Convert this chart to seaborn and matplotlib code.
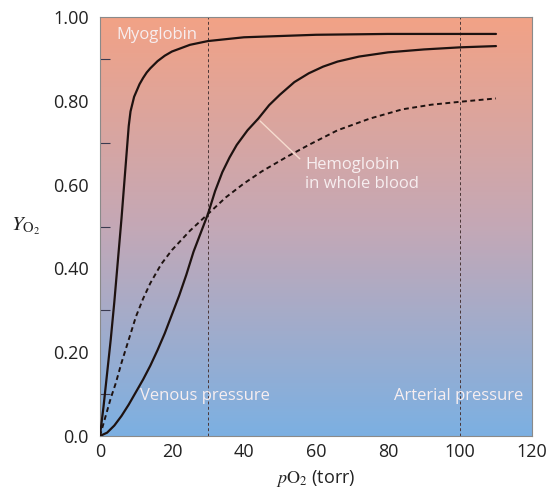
import numpy as np
import matplotlib
matplotlib.use("Agg")
import matplotlib.pyplot as plt
from matplotlib.colors import LinearSegmentedColormap
from matplotlib.ticker import MultipleLocator, FixedLocator
import seaborn as sns

# oxygen binding curves (pO2 in torr, fractional saturation)
myo_p = [0, 1, 2, 3, 4, 5, 6, 7, 8, 8.5, 9.5, 11, 12, 13, 14, 16, 18, 20, 25, 30, 40, 60, 80, 110]
myo_y = [0, 0.07, 0.15, 0.23, 0.32, 0.42, 0.52, 0.63, 0.74, 0.775, 0.81, 0.84, 0.855, 0.868, 0.878,
         0.895, 0.908, 0.918, 0.934, 0.943, 0.952, 0.958, 0.96, 0.96]

hb_p = [0, 2, 4, 6, 8, 10, 12, 14, 16, 18, 20, 22, 24, 26, 28, 30, 32, 34, 36, 38, 41, 44, 47,
        50, 54, 58, 62, 66, 72, 80, 90, 100, 110]
hb_y = [0, 0.008, 0.025, 0.048, 0.075, 0.105, 0.135, 0.168, 0.205, 0.245, 0.29, 0.335, 0.385,
        0.44, 0.485, 0.53, 0.585, 0.63, 0.665, 0.695, 0.73, 0.758, 0.79, 0.815, 0.845, 0.866,
        0.882, 0.894, 0.906, 0.916, 0.923, 0.928, 0.931]

blood_p = [0, 1, 2, 3, 4.4, 6, 8, 10, 12, 14, 17, 20, 25, 30, 35, 40, 45, 52, 58, 66, 75, 84,
           92, 100, 110]
blood_y = [0, 0.03, 0.06, 0.09, 0.126, 0.175, 0.23, 0.285, 0.328, 0.365, 0.41, 0.444, 0.49,
           0.53, 0.57, 0.603, 0.632, 0.667, 0.695, 0.73, 0.758, 0.78, 0.791, 0.798, 0.806]

pressures = [30, 100]
pressure_labels = ["Venous pressure", "Arterial pressure"]

sns.set_style("white")
plt.rcParams["font.family"] = ["Open Sans", "DejaVu Sans"]
plt.rcParams["mathtext.fontset"] = "stix"

fig = plt.figure(figsize=(5.49, 4.91), dpi=100)
ax = fig.add_axes([0.182, 0.112, 0.787, 0.853])

# salmon -> mauve -> blue backdrop (top to bottom)
cmap = LinearSegmentedColormap.from_list("bg", ["#f2a286", "#c4a8b6", "#7cb0e2"])
grad = np.linspace(0, 1, 256).reshape(-1, 1)
ax.imshow(grad, cmap=cmap, aspect="auto", extent=[0, 120, 0.0, 1.0], origin="upper", zorder=0)

ink = "#1e1210"
sns.lineplot(x=myo_p, y=myo_y, ax=ax, color=ink, lw=1.6, zorder=3)
sns.lineplot(x=hb_p, y=hb_y, ax=ax, color=ink, lw=1.6, zorder=3)
sns.lineplot(x=blood_p, y=blood_y, ax=ax, color=ink, lw=1.4, zorder=3,
             linestyle=(0, (2.5, 1.8)))

for p in pressures:
    ax.axvline(p, color="#4a3636", lw=0.7, linestyle=(0, (3, 2.5)), zorder=2)

ax.set_xlim(0, 120)
ax.set_ylim(0, 1.0)

txt = "#f7eef0"
ax.text(4.7, 0.957, "Myoglobin", color=txt, fontsize=12, va="center", ha="left")
ax.text(11.1, 0.096, pressure_labels[0], color=txt, fontsize=12, va="center", ha="left")
ax.text(117.5, 0.096, pressure_labels[1], color=txt, fontsize=12, va="center", ha="right")
ax.plot([44.5, 55.5], [0.752, 0.662], color="#f6dccf", lw=1.0, zorder=2)
ax.text(57, 0.665, "Hemoglobin\nin whole blood", color=txt, fontsize=12,
        va="top", ha="left", linespacing=1.2)

ax.xaxis.set_major_locator(MultipleLocator(20))
ax.yaxis.set_major_locator(FixedLocator([0, 0.2, 0.4, 0.6, 0.8, 1.0]))
ax.yaxis.set_minor_locator(FixedLocator([0.1, 0.3, 0.5, 0.7, 0.9]))
ax.set_yticklabels(["0.0", "0.20", "0.40", "0.60", "0.80", "1.00"])
ax.tick_params(axis="x", direction="in", length=7, width=0.8, color="#3a3a50",
               labelsize=13, labelcolor="#222222", pad=5)
ax.tick_params(axis="y", which="major", length=0, labelsize=13,
               labelcolor="#222222", pad=8)
ax.tick_params(axis="y", which="minor", direction="in", length=7, width=0.8,
               color="#3a3a50", left=True)

for s in ax.spines.values():
    s.set_color("#8a8a8a")
    s.set_linewidth(0.8)

ax.set_xlabel(r"$p\mathrm{O}_2$ (torr)", fontsize=13, color="#222222", labelpad=5)
ax.set_ylabel(r"$Y_{\mathrm{O}_2}$", fontsize=15, color="#222222", rotation=0,
              labelpad=20, va="center")

fig.savefig("out.png", dpi=100)
